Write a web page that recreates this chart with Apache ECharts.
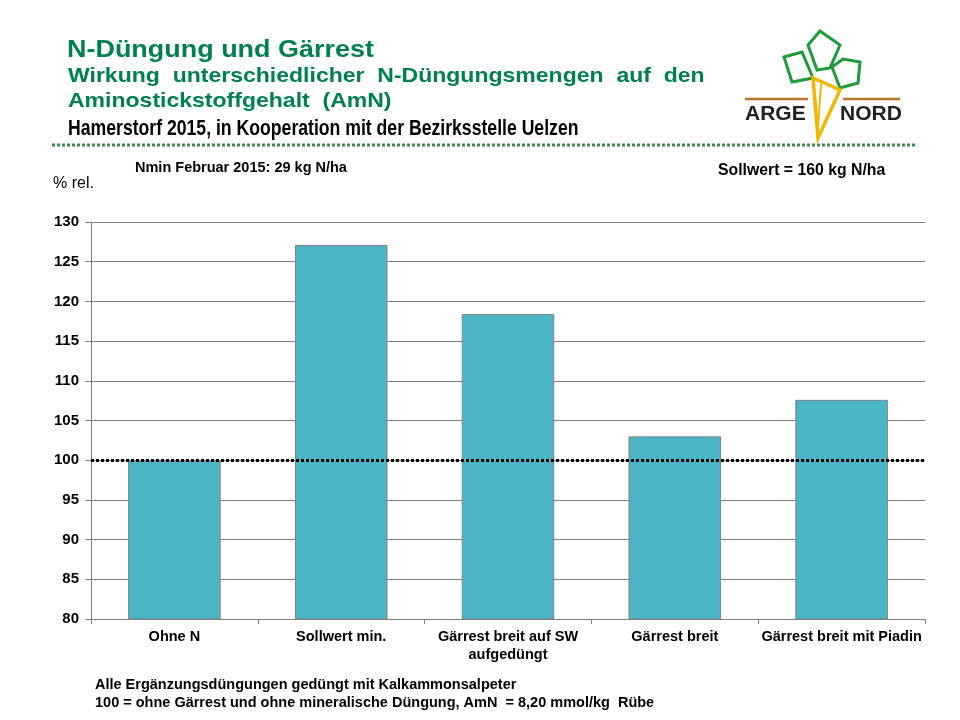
<!DOCTYPE html>
<html><head><meta charset="utf-8">
<script src="https://cdn.jsdelivr.net/npm/echarts@6/dist/echarts.min.js"></script>
<style>html,body{margin:0;padding:0;background:#fff}#c{width:960px;height:720px}</style>
</head><body><div id="c"></div>
<script>
const categories = ['Ohne N', 'Sollwert min.', 'Gärrest breit auf SW\naufgedüngt', 'Gärrest breit', 'Gärrest breit mit Piadin'];
const values = [100.0, 127.1, 118.4, 103.0, 107.6];
const referenceValue = 100;
const yMin = 80, yMax = 130, yStep = 5;

const green = '#00804F';
const F = '"Liberation Sans", Arial, sans-serif';
function txt(x, y, text, font, fill, sx) {
  return { type: 'text', x: x, y: y, scaleX: sx || 1, style: { x: 0, y: 0, text: text, font: font, fill: fill || '#000', align: 'left', verticalAlign: 'top' } };
}
const chart = echarts.init(document.getElementById('c'));
chart.setOption({
  backgroundColor: '#fff',
  animation: false,
  grid: { left: 91, right: 35, top: 222, bottom: 101 },
  xAxis: {
    type: 'category', data: categories,
    axisLine: { lineStyle: { color: '#808080', width: 1 } },
    axisTick: { show: true, interval: 0, alignWithLabel: false, length: 5, lineStyle: { color: '#808080' } },
    axisLabel: { interval: 0, color: '#000', fontFamily: 'Liberation Sans', fontWeight: 'bold', fontSize: 14.5, lineHeight: 18, margin: 9 }
  },
  yAxis: {
    type: 'value', min: yMin, max: yMax, interval: yStep,
    axisLine: { show: true, lineStyle: { color: '#808080', width: 1 } },
    axisTick: { show: true, length: 6, lineStyle: { color: '#808080' } },
    splitLine: { lineStyle: { color: '#808080', width: 1.2 } },
    axisLabel: { color: '#000', fontFamily: 'Liberation Sans', fontWeight: 'bold', fontSize: 15, margin: 12 }
  },
  series: [{
    type: 'bar', data: values, barWidth: '55.5%',
    itemStyle: { color: '#4BB5C5', borderColor: '#808080', borderWidth: 1 },
    markLine: {
      silent: true, symbol: 'none', label: { show: false },
      lineStyle: { color: '#000', type: [3, 2], width: 3 },
      data: [{ yAxis: referenceValue }]
    }
  }],
  graphic: [
    txt(67, 38, 'N-Düngung und Gärrest', 'bold 24.5px ' + F, green, 1.1),
    txt(68, 66, 'Wirkung  unterschiedlicher  N-Düngungsmengen  auf  den', 'bold 21px ' + F, green, 1.096),
    txt(68, 91, 'Aminostickstoffgehalt  (AmN)', 'bold 21px ' + F, green, 1.096),
    txt(68, 118, 'Hamerstorf 2015, in Kooperation mit der Bezirksstelle Uelzen', 'bold 21.5px ' + F, '#000', 0.82),
    { type: 'line', shape: { x1: 52, y1: 145, x2: 915, y2: 145 }, style: { stroke: '#3a8a50', lineWidth: 3, lineDash: [3, 2] } },
    txt(135, 160, 'Nmin Februar 2015: 29 kg N/ha', 'bold 14.5px ' + F),
    txt(718, 163, 'Sollwert = 160 kg N/ha', 'bold 15.8px ' + F),
    txt(53, 176, '% rel.', '16px ' + F),
    txt(95, 677, 'Alle Ergänzungsdüngungen gedüngt mit Kalkammonsalpeter', 'bold 14.5px ' + F),
    txt(95, 695, '100 = ohne Gärrest und ohne mineralische Düngung, AmN  = 8,20 mmol/kg  Rübe', 'bold 14.5px ' + F),
    // logo
    { type: 'line', shape: { x1: 745, y1: 99, x2: 808, y2: 99 }, style: { stroke: '#b8732e', lineWidth: 2.5 } },
    { type: 'line', shape: { x1: 843, y1: 99, x2: 900, y2: 99 }, style: { stroke: '#b8732e', lineWidth: 2.5 } },
    { type: 'polygon', shape: { points: [[784,57],[802,52],[813,78],[792,82]] }, style: { fill: 'none', stroke: '#1f9a3c', lineWidth: 3 } },
    { type: 'polygon', shape: { points: [[808,45],[820,31],[840,45],[830,68],[817,70]] }, style: { fill: 'none', stroke: '#1f9a3c', lineWidth: 3 } },
    { type: 'polygon', shape: { points: [[832,67],[843,59],[860,62],[858,83],[840,88]] }, style: { fill: 'none', stroke: '#1f9a3c', lineWidth: 3 } },
    { type: 'polygon', shape: { points: [[813,78],[840,90],[818,138]] }, style: { fill: 'none', stroke: '#f2b705', lineWidth: 3.5 } },
    { type: 'line', shape: { x1: 821, y1: 84, x2: 818, y2: 128 }, style: { stroke: '#f2b705', lineWidth: 2 } },
    txt(745, 104, 'ARGE', 'bold 21px ' + F, '#222', 1.0),
    txt(840, 104, 'NORD', 'bold 21px ' + F, '#222', 1.0)
  ]
});
</script></body></html>
